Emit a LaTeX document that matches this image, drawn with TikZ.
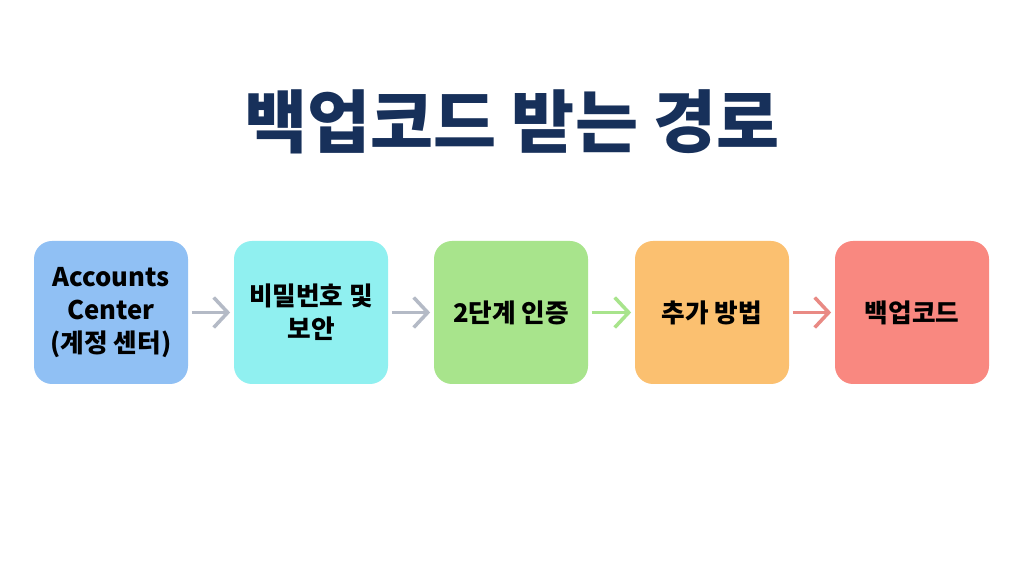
\documentclass[tikz,border=0pt]{standalone}
\usepackage{fontspec}
\setmainfont{Noto Sans CJK KR}
\usetikzlibrary{arrows.meta}

\definecolor{navy}{HTML}{17305A}
\definecolor{blueA}{HTML}{90C0F4}
\definecolor{cyanA}{HTML}{90F0F0}
\definecolor{greenA}{HTML}{A8E48C}
\definecolor{orangeA}{HTML}{FBC070}
\definecolor{redA}{HTML}{F98880}
\definecolor{grayA}{HTML}{B4BAC6}
\definecolor{redB}{HTML}{E98A84}

\tikzset{
  stepbox/.style={rounded corners=0.36cm, minimum width=3.08cm, minimum height=2.86cm,
    align=center, font=\fontsize{14.6}{18.7}\selectfont\bfseries, text=black},
  flow/.style={line width=2pt, shorten <=2pt, shorten >=2pt,
    -{Straight Barb[length=0.28cm,width=0.6cm,line width=2pt]}}
}

\begin{document}
\begin{tikzpicture}

        \useasboundingbox[fill=white] (0,0) rectangle (20.48,-11.44);

        \node[text=navy, font=\fontsize{39}{44}\selectfont\bfseries] (title) at (10.24,-2.44) {백업코드 받는 경로};

        \begin{scope}[every node/.style={stepbox}]
          \node[fill=blueA]   (1) at (2.22,-6.25)  {Accounts\\Center\\(계정 센터)};
          \node[fill=cyanA]   (2) at (6.22,-6.25)  {비밀번호 및\\보안};
          \node[fill=greenA]  (3) at (10.22,-6.25) {2단계 인증};
          \node[fill=orangeA] (4) at (14.24,-6.25) {추가 방법};
          \node[fill=redA]    (5) at (18.24,-6.25) {백업코드};
        \end{scope}

        \begin{scope}[every edge/.style={draw, flow}]
          \path (1) edge[grayA] (2);
          \path (2) edge[grayA] (3);
          \path (3) edge[greenA] (4);
          \path (4) edge[redB] (5);
        \end{scope}

      \end{tikzpicture}
\end{document}
